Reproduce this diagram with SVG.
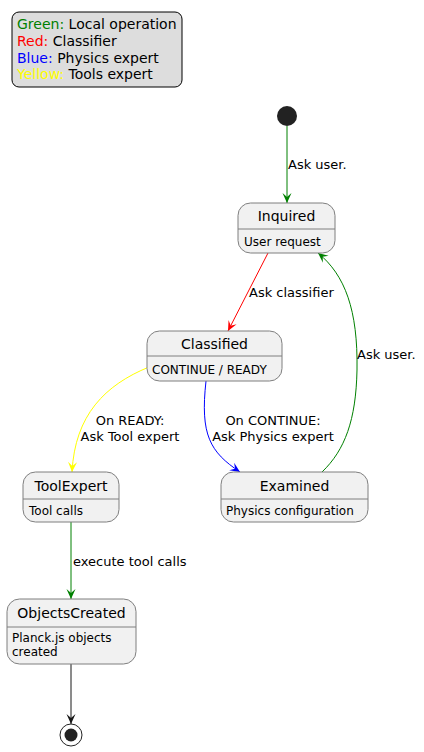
<svg xmlns="http://www.w3.org/2000/svg" width="424" height="752" viewBox="0 0 424 752">
<defs>
<style>
text{font-family:"DejaVu Sans","Liberation Sans",sans-serif;fill:#000}
.node rect{fill:#F1F1F1;stroke:#7F7F7F;stroke-width:1}
.node line{stroke:#7F7F7F;stroke-width:1}
.title{font-size:14px;text-anchor:middle}
.desc{font-size:12px}
.lbl{font-size:13px}
.leg{font-size:14px}
.edge{fill:none;stroke-width:1}
</style>
<marker id="aG" viewBox="-11 -6 12 12" refX="0" refY="0" markerUnits="userSpaceOnUse" markerWidth="12" markerHeight="12" orient="auto"><path d="M0,0 L-10,-4.5 L-6,0 L-10,4.5 Z" fill="#008000"/></marker>
<marker id="aR" viewBox="-11 -6 12 12" refX="0" refY="0" markerUnits="userSpaceOnUse" markerWidth="12" markerHeight="12" orient="auto"><path d="M0,0 L-10,-4.5 L-6,0 L-10,4.5 Z" fill="#FF0000"/></marker>
<marker id="aB" viewBox="-11 -6 12 12" refX="0" refY="0" markerUnits="userSpaceOnUse" markerWidth="12" markerHeight="12" orient="auto"><path d="M0,0 L-10,-4.5 L-6,0 L-10,4.5 Z" fill="#0000FF"/></marker>
<marker id="aY" viewBox="-11 -6 12 12" refX="0" refY="0" markerUnits="userSpaceOnUse" markerWidth="12" markerHeight="12" orient="auto"><path d="M0,0 L-10,-4.5 L-6,0 L-10,4.5 Z" fill="#FFFF00"/></marker>
<marker id="aK" viewBox="-11 -6 12 12" refX="0" refY="0" markerUnits="userSpaceOnUse" markerWidth="12" markerHeight="12" orient="auto"><path d="M0,0 L-10,-4.5 L-6,0 L-10,4.5 Z" fill="#181818"/></marker>
</defs>
<rect width="424" height="752" fill="#FFFFFF"/>
<g id="legend">
<rect x="12" y="12" width="170" height="75" rx="7" ry="7" fill="#DDDDDD" stroke="#000" stroke-width="1"/>
<text class="leg" x="17" y="29"><tspan fill="#008000">Green:</tspan> Local operation</text>
<text class="leg" x="17" y="46"><tspan fill="#FF0000">Red:</tspan> Classifier</text>
<text class="leg" x="17" y="63"><tspan fill="#0000FF">Blue:</tspan> Physics expert</text>
<text class="leg" x="17" y="79"><tspan fill="#FFFF00">Yellow:</tspan> Tools expert</text>
</g>
<g id="connectors">
<path class="edge" d="M287,126 L287,203" stroke="#008000" marker-end="url(#aG)"/>
<text class="lbl" x="288" y="169">Ask user.</text>
<path class="edge" d="M268,253 L228,331" stroke="#FF0000" marker-end="url(#aR)"/>
<text class="lbl" x="249" y="297">Ask classifier</text>
<path class="edge" d="M149,367 C105,385 75,415 72,472" stroke="#FFFF00" marker-end="url(#aY)"/>
<text class="lbl" x="130" y="425" text-anchor="middle">On READY:</text>
<text class="lbl" x="130" y="441" text-anchor="middle">Ask Tool expert</text>
<path class="edge" d="M206,381 C200,435 210,452 240,472" stroke="#0000FF" marker-end="url(#aB)"/>
<text class="lbl" x="273" y="425" text-anchor="middle">On CONTINUE:</text>
<text class="lbl" x="273" y="441" text-anchor="middle">Ask Physics expert</text>
<path class="edge" d="M322,472 C345,450 356,420 357,370 C358,310 345,275 318,253" stroke="#008000" marker-end="url(#aG)"/>
<text class="lbl" x="357" y="359">Ask user.</text>
<path class="edge" d="M71,522 L71,599" stroke="#008000" marker-end="url(#aG)"/>
<text class="lbl" x="73" y="566">execute tool calls</text>
<path class="edge" d="M71,664 L71,724" stroke="#181818" marker-end="url(#aK)"/>
</g>
<g id="start"><circle cx="287" cy="116" r="10" fill="#222222"/></g>
<g id="Inquired" class="node">
<rect x="238" y="203" width="97" height="50" rx="12.5" ry="12.5"/>
<line x1="238" y1="229" x2="335" y2="229"/>
<text class="title" x="286.5" y="221">Inquired</text>
<text class="desc" x="244" y="246">User request</text>
</g>
<g id="Classified" class="node">
<rect x="147" y="331" width="135" height="50" rx="12.5" ry="12.5"/>
<line x1="147" y1="356" x2="282" y2="356"/>
<text class="title" x="214.5" y="349">Classified</text>
<text class="desc" x="152" y="374">CONTINUE / READY</text>
</g>
<g id="ToolExpert" class="node">
<rect x="23" y="472" width="96" height="50" rx="12.5" ry="12.5"/>
<line x1="23" y1="499" x2="119" y2="499"/>
<text class="title" x="71" y="491">ToolExpert</text>
<text class="desc" x="29" y="515">Tool calls</text>
</g>
<g id="Examined" class="node">
<rect x="221" y="472" width="147" height="50" rx="12.5" ry="12.5"/>
<line x1="221" y1="499" x2="368" y2="499"/>
<text class="title" x="294.5" y="491">Examined</text>
<text class="desc" x="226" y="515">Physics configuration</text>
</g>
<g id="ObjectsCreated" class="node">
<rect x="7" y="599" width="129" height="65" rx="12.5" ry="12.5"/>
<line x1="7" y1="627" x2="136" y2="627"/>
<text class="title" x="71.5" y="618">ObjectsCreated</text>
<text class="desc" x="12" y="642">Planck.js objects</text>
<text class="desc" x="12" y="656">created</text>
</g>
<g id="end">
<circle cx="71" cy="735" r="11" fill="none" stroke="#222222" stroke-width="1"/>
<circle cx="71" cy="735" r="6.5" fill="#222222"/>
</g>
</svg>
